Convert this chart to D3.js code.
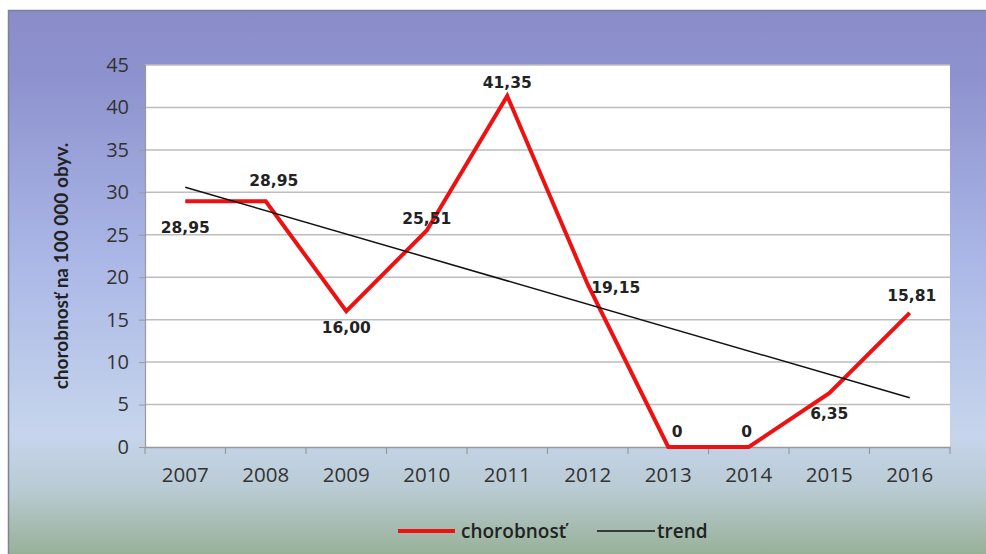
<!DOCTYPE html>
<html><head><meta charset="utf-8">
<script src="https://cdn.jsdelivr.net/npm/d3@7"></script>
<style>html,body{margin:0;padding:0;background:#fff;}svg{display:block;}</style>
</head><body>
<svg id="chart" width="986" height="554"></svg>
<script>
const years = ["2007","2008","2009","2010","2011","2012","2013","2014","2015","2016"];
const chorobnost = [28.95, 28.95, 16.00, 25.51, 41.35, 19.15, 0, 0, 6.35, 15.81];
const valueLabels = ["28,95","28,95","16,00","25,51","41,35","19,15","0","0","6,35","15,81"];
const trendYears = ["2007","2016"];
const trendValues = [30.6, 5.8];
const yTicks = [0,5,10,15,20,25,30,35,40,45];
const yTitle = "chorobnosť na 100 000 obyv.";
const legendNames = ["chorobnosť","trend"];
// label offsets (dx, dy) relative to each point
const labelOffsets = [[0,32],[8,-15],[0,22],[0,-6],[0,-8],[28,9],[9,-10],[-2,-10],[0,26],[2,-12]];

const svg = d3.select("#chart");
const W = 986, H = 554;
const defs = svg.append("defs");
const g = defs.append("linearGradient").attr("id","bg").attr("x1",0).attr("y1",0).attr("x2",0).attr("y2",1);
[[0,"#8a8cca"],[0.12,"#8d92ce"],[0.45,"#aab6e6"],[0.78,"#c6d5ec"],[0.88,"#b9cbd3"],[1,"#98b198"]].forEach(s=>g.append("stop").attr("offset",s[0]).attr("stop-color",s[1]));

svg.append("rect").attr("x",8).attr("y",10).attr("width",W-8).attr("height",H-10).attr("fill","url(#bg)");
svg.append("line").attr("x1",8).attr("x2",W).attr("y1",10.5).attr("y2",10.5).attr("stroke","#7d7f9e").attr("stroke-width",1.5);
svg.append("line").attr("x1",8.5).attr("x2",8.5).attr("y1",10).attr("y2",H).attr("stroke","#7f8196").attr("stroke-width",1.5);

const L = 145, R = 950, T = 65, B = 447;
const x = d3.scaleBand().domain(years).range([L,R]);
const y = d3.scaleLinear().domain([0,45]).range([B,T]);
const font = "'Open Sans', Lato, sans-serif";

svg.append("rect").attr("x",L).attr("y",T).attr("width",R-L).attr("height",B-T).attr("fill","#ffffff");

// gridlines
svg.append("g").selectAll("line").data(yTicks.filter(d=>d>0)).join("line")
  .attr("x1",L).attr("x2",R).attr("y1",d=>y(d)).attr("y2",d=>y(d))
  .attr("stroke","#bdbdbd").attr("stroke-width",1.5);

// y axis
const yAxis = svg.append("g").attr("transform",`translate(${L},0)`)
  .call(d3.axisLeft(y).tickValues(yTicks).tickSize(6).tickPadding(10));
yAxis.select(".domain").attr("stroke","#999").attr("stroke-width",1.2);
yAxis.selectAll(".tick line").attr("stroke","#999");
yAxis.selectAll("text").attr("font-family",font).attr("font-size",20).attr("fill","#333");

// x axis
const xAxis = svg.append("g").attr("transform",`translate(0,${B})`)
  .call(d3.axisBottom(x).tickSize(0).tickPadding(20));
xAxis.select(".domain").attr("stroke","#999").attr("stroke-width",1.5);
xAxis.selectAll("text").attr("font-family",font).attr("font-size",20.5).attr("fill","#333");
// category separators ticks
const bounds = years.map(d=>x(d)).concat([x(years[years.length-1])+x.bandwidth()]);
svg.append("g").selectAll("line").data(bounds).join("line")
  .attr("x1",d=>d).attr("x2",d=>d).attr("y1",B).attr("y2",B+7)
  .attr("stroke","#999").attr("stroke-width",1.2);

// y title
svg.append("text").attr("transform",`translate(68,${(T+B)/2+10}) rotate(-90)`)
  .attr("text-anchor","middle").attr("font-family","Lato, 'Open Sans', sans-serif")
  .attr("font-size",19).attr("font-weight","bold").attr("fill","#222").text(yTitle);

const cx = d => x(d) + x.bandwidth()/2;

// main line
const line = d3.line().x((d,i)=>cx(years[i])).y(d=>y(d));
svg.append("path").datum(chorobnost).attr("d",line).attr("fill","none")
  .attr("stroke","#ee1111").attr("stroke-width",4).attr("stroke-linejoin","miter");

// trend
const tline = d3.line().x((d,i)=>cx(trendYears[i])).y(d=>y(d));
svg.append("path").datum(trendValues).attr("d",tline).attr("fill","none")
  .attr("stroke","#111").attr("stroke-width",1.5);

// labels
svg.append("g").selectAll("text").data(chorobnost).join("text")
  .attr("x",(d,i)=>cx(years[i])+labelOffsets[i][0])
  .attr("y",(d,i)=>y(d)+labelOffsets[i][1])
  .attr("text-anchor","middle")
  .attr("font-family","'DejaVu Sans', Verdana, sans-serif").attr("font-weight","bold")
  .attr("font-size",15.5).attr("fill","#222")
  .text((d,i)=>valueLabels[i]);

// legend
const lg = svg.append("g");
lg.append("line").attr("x1",398).attr("x2",455).attr("y1",531).attr("y2",531).attr("stroke","#ee1111").attr("stroke-width",4);
lg.append("text").attr("x",461).attr("y",538).attr("font-family",font).attr("font-size",19).attr("font-weight","600").attr("fill","#222").text(legendNames[0]);
lg.append("line").attr("x1",597).attr("x2",655).attr("y1",531).attr("y2",531).attr("stroke","#111").attr("stroke-width",1.5);
lg.append("text").attr("x",657).attr("y",538).attr("font-family",font).attr("font-size",19).attr("font-weight","600").attr("fill","#222").text(legendNames[1]);
</script>
</body></html>
